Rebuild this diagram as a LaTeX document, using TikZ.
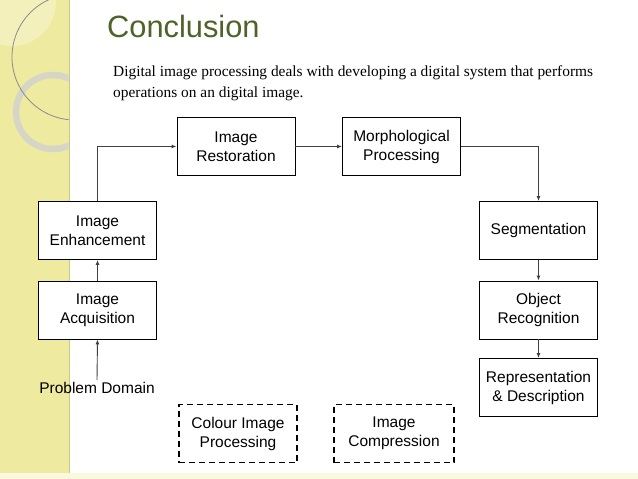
\documentclass[tikz,border=0pt]{standalone}
\usepackage{fontspec}
\setmainfont{Liberation Serif}
\setsansfont{Liberation Sans}
\usetikzlibrary{arrows.meta}
\definecolor{yellowbar}{RGB}{238,234,160}
\definecolor{yellowlight}{RGB}{250,249,222}
\definecolor{titlegreen}{RGB}{79,98,40}
\begin{document}
\begin{tikzpicture}[x=1pt,y=-1pt,
  box/.style={draw=black, fill=white, line width=0.9pt, minimum width=118pt, minimum height=58pt, align=center, inner sep=0pt, font=\sffamily\fontsize{15.5}{19}\selectfont},
  dbox/.style={box, dash pattern=on 6pt off 4pt, line width=1.4pt},
  arr/.style={draw=black!75, line width=0.9pt, -{Latex[length=5pt,width=4pt]}}]
\useasboundingbox (0,0) rectangle (638,479);
\fill[white] (0,0) rectangle (638,479);
\fill[yellowbar] (0,0) rectangle (70,479);
\fill[yellowbar!85!black] (68.5,0) rectangle (70,479);
\fill[yellowlight] (0,473) rectangle (638,479);
\begin{scope}
  \clip (0,0) rectangle (68.5,479);
  \fill[white, opacity=0.3] (12,2) circle (44);
  \draw[black!18, opacity=0.8, line width=6.5pt] (53,112) circle (37);
  \draw[black!45, line width=0.8pt] (75,57) circle (63);
\end{scope}
\node[anchor=base west, text=titlegreen, font=\sffamily\fontsize{30.8}{36}\selectfont, inner sep=0pt] (title) at (107,37) {Conclusion};
\node[anchor=base west, font=\fontsize{15.4}{20}\selectfont, inner sep=0pt] (desc1) at (113,76) {Digital image processing deals with developing a digital system that performs};
\node[anchor=base west, font=\fontsize{15.4}{20}\selectfont, inner sep=0pt] (desc2) at (113,97) {operations on an digital image.};

\node[box] (res) at (236,146.5) {Image\\Restoration};
\node[box] (mor) at (401.5,146.5) {Morphological\\Processing};
\node[box] (enh) at (97.5,230.5) {Image\\Enhancement};
\node[box] (seg) at (538.5,230.5) {Segmentation};
\node[box] (acq) at (97.5,310) {Image\\Acquisition};
\node[box] (obj) at (538.5,310) {Object\\Recognition};
\node[box] (rep) at (538.5,387.5) {Representation\\\& Description};
\node[dbox] (col) at (238,433.5) {Colour Image\\Processing};
\node[dbox, minimum width=120pt] (cmp) at (394,433.5) {Image\\Compression};
\node[font=\sffamily\fontsize{15.5}{19}\selectfont, inner sep=2pt] (pd) at (97,388) {Problem Domain};

\draw[arr] (enh.north) |- (res.west);
\draw[arr] (res.east) -- (mor.west);
\draw[arr] (mor.east) -| (seg.north);
\draw[arr] (seg.south) -- (obj.north);
\draw[arr] (obj.south) -- (rep.north);
\draw[arr] (acq.north) -- (enh.south);
\draw[arr] (pd.north) -- (acq.south);
\end{tikzpicture}
\end{document}
